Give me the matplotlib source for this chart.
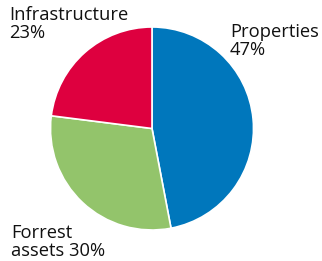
import matplotlib.pyplot as plt

# pie data, clockwise from 12 o'clock
labels = ['Properties', 'Forrest assets', 'Infrastructure']
shares = [47, 30, 23]
colors = ['#0077BC', '#93C46B', '#DE003F']

W, H = 322, 261
fig = plt.figure(figsize=(W / 100, H / 100), dpi=100)

# pie centre and radius in pixels
cx, cy, r = 152, 128.5, 101.5
ax = fig.add_axes([(cx - r) / W, (H - cy - r) / H, 2 * r / W, 2 * r / H])
ax.pie(shares, colors=colors, startangle=90, counterclock=False,
       wedgeprops=dict(edgecolor='white', linewidth=1.2))
ax.set_xlim(-1, 1)
ax.set_ylim(-1, 1)
ax.set_aspect('equal')
ax.axis('off')


def label(x, y, s):
    # x, y: top-left of text in pixels
    fig.text(x / W, 1 - y / H, s, ha='left', va='top', fontsize=13.2,
             family='Open Sans', color='#111111', linespacing=0.98)


label(9, 6, 'Infrastructure\n23%')
label(230, 23, 'Properties\n47%')
label(11, 224, 'Forrest\nassets 30%')

fig.savefig('out.png', dpi=100)
